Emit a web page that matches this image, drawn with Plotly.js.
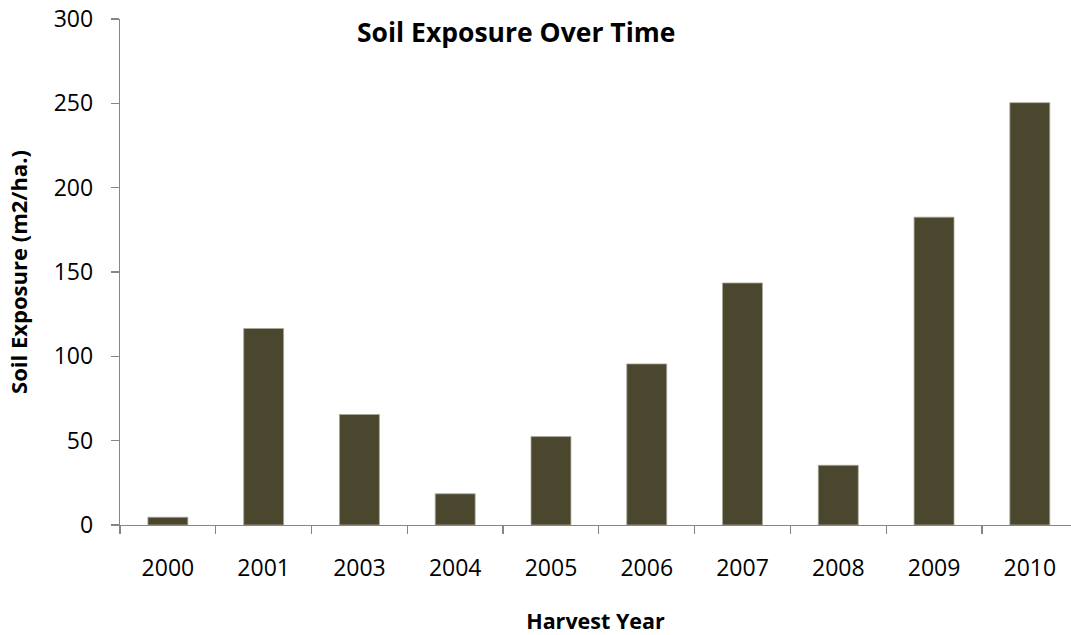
<!DOCTYPE html>
<html>
<head>
<meta charset="utf-8">
<script src="https://cdn.plot.ly/plotly-3.0.1.min.js"></script>
<style>html,body{margin:0;padding:0;background:#fff;}#chart{width:1071px;height:635px;}</style>
</head>
<body>
<div id="chart"></div>
<script>
const years = ["2000", "2001", "2003", "2004", "2005", "2006", "2007", "2008", "2009", "2010"];
const soilExposure = [4.6, 116.5, 65.5, 18.5, 52.4, 95.5, 143.5, 35.4, 182.5, 250.4];
const yTicks = [0, 50, 100, 150, 200, 250, 300];

const font = "Open Sans, Noto Sans, sans-serif";
const trace = {
  type: "bar",
  x: years,
  y: soilExposure,
  width: 0.417,
  marker: {color: "#4B462E", line: {color: "#aaa797", width: 0.8}},
  hoverinfo: "x+y"
};
const layout = {
  width: 1071,
  height: 635,
  margin: {l: 120, r: 0, t: 19, b: 110, pad: 0},
  paper_bgcolor: "#ffffff",
  plot_bgcolor: "#ffffff",
  font: {family: font, color: "#000000", size: 22},
  showlegend: false,
  title: {
    text: "<b>Soil Exposure Over Time</b>",
    font: {family: font, size: 26.5, color: "#000000"},
    x: 0.482, xref: "container", xanchor: "center",
    y: 1 - 33 / 635, yref: "container", yanchor: "middle"
  },
  xaxis: {
    type: "category",
    range: [-0.5, 9.43],
    showline: true, linecolor: "#868686", linewidth: 1.3,
    ticks: "outside", tickson: "boundaries", ticklen: 8, tickcolor: "#868686", tickwidth: 1.3,
    ticklabelstandoff: 22,
    showgrid: false, zeroline: false,
    tickfont: {family: font, size: 23, color: "#000000"},
    title: {text: "<b>Harvest Year</b>", font: {family: font, size: 21.5, color: "#000000"}, standoff: 34}
  },
  yaxis: {
    range: [0, 300],
    tickvals: yTicks,
    ticktext: yTicks.map(String),
    showline: true, linecolor: "#868686", linewidth: 1.3,
    ticks: "outside", ticklen: 8, tickcolor: "#868686", tickwidth: 1.3,
    ticklabelstandoff: 13,
    showgrid: false, zeroline: false,
    tickfont: {family: font, size: 23, color: "#000000"},
    title: {text: "<b>Soil Exposure (m2/ha.)</b>", font: {family: font, size: 22, color: "#000000"}, standoff: 20}
  }
};
Plotly.newPlot("chart", [trace], layout, {displayModeBar: false, staticPlot: true});
</script>
</body>
</html>
